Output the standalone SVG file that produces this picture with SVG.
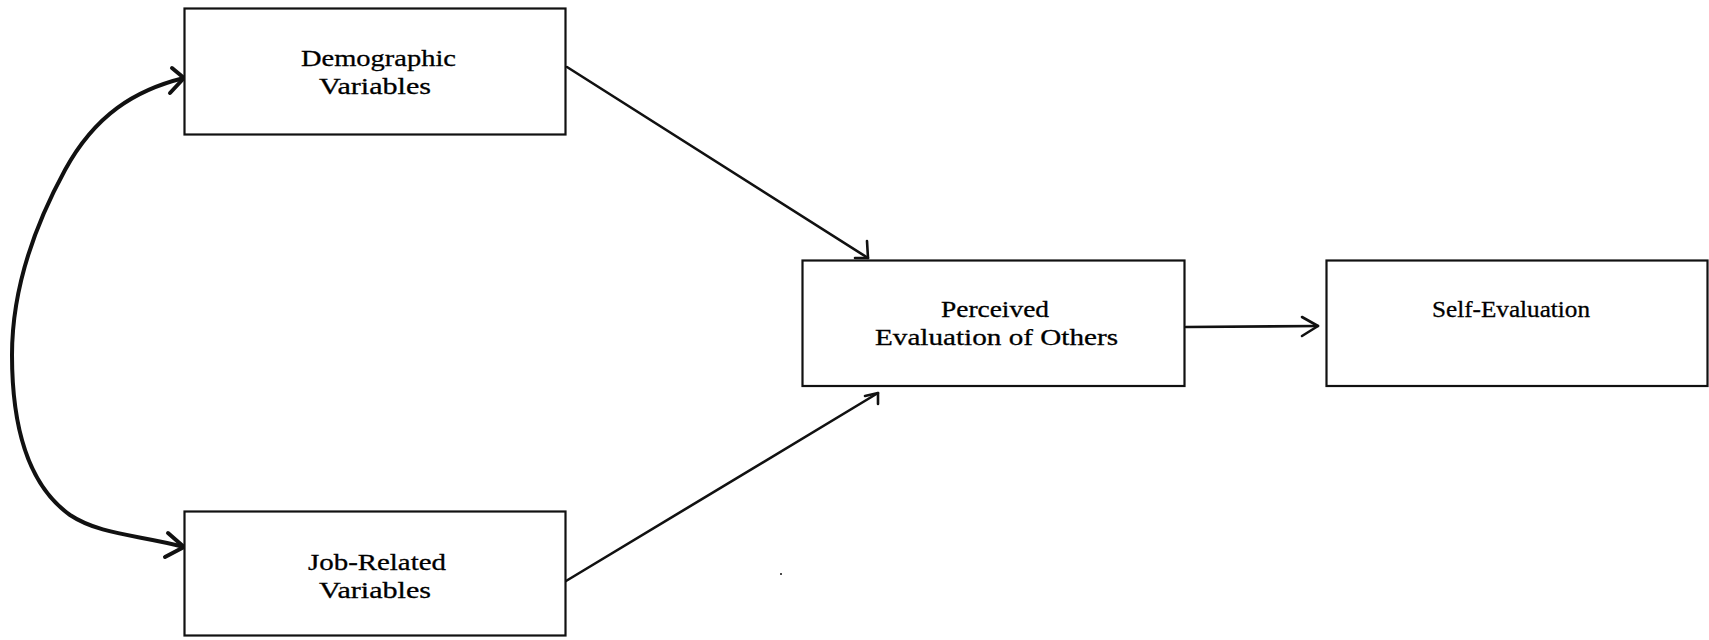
<svg xmlns="http://www.w3.org/2000/svg" width="1709" height="640" viewBox="0 0 1709 640">
<style>
.box{fill:#fff;stroke:#111;stroke-width:2.2}
.lbl{font-family:"Liberation Serif","Times New Roman",serif;font-size:24px;fill:#000;stroke:#000;stroke-width:0.3}
.con{fill:none;stroke:#111;stroke-width:2.6;stroke-linecap:round;stroke-linejoin:round}
.curve{fill:none;stroke:#111;stroke-width:4;stroke-linecap:round;stroke-linejoin:round}
</style>
<rect width="1709" height="640" fill="#fff"/>
<g id="connectors">
  <path class="curve" d="M184,78 C135,90 95,115 65,170 C35,225 12,290 12,355 C12,440 35,490 70,515 C100,535 140,535 184,547"/>
  <path class="curve" d="M172,68 L184,78 L170,93"/>
  <path class="curve" d="M168,533 L184,547 L165,557"/>
  <path class="con" d="M567,67 L868,258"/>
  <path class="con" d="M867,241 L868,258 L855,258"/>
  <path class="con" d="M566,581 L878,393"/>
  <path class="con" d="M865,396 L878,393 L878,404"/>
  <path class="con" d="M1186,327 L1318,326"/>
  <path class="con" d="M1302,317 L1318,326 L1302,336"/>
</g>
<g id="demographic">
  <rect class="box" x="184.5" y="8.5" width="381" height="126"/>
  <text class="lbl" x="301" y="66" textLength="155" lengthAdjust="spacingAndGlyphs">Demographic</text>
  <text class="lbl" x="319" y="94" textLength="112" lengthAdjust="spacingAndGlyphs">Variables</text>
</g>
<g id="jobrelated">
  <rect class="box" x="184.5" y="511.5" width="381" height="124"/>
  <text class="lbl" x="308" y="570" textLength="138" lengthAdjust="spacingAndGlyphs">Job-Related</text>
  <text class="lbl" x="319" y="598" textLength="112" lengthAdjust="spacingAndGlyphs">Variables</text>
</g>
<g id="perceived">
  <rect class="box" x="802.5" y="260.5" width="382" height="125.5"/>
  <text class="lbl" x="941" y="317" textLength="108" lengthAdjust="spacingAndGlyphs">Perceived</text>
  <text class="lbl" x="875" y="345" textLength="243" lengthAdjust="spacingAndGlyphs">Evaluation of Others</text>
</g>
<g id="selfeval">
  <rect class="box" x="1326.5" y="260.5" width="381" height="125.5"/>
  <text class="lbl" x="1432" y="317" textLength="158" lengthAdjust="spacingAndGlyphs">Self-Evaluation</text>
</g>
<circle cx="781" cy="574" r="1" fill="#111"/>
</svg>
